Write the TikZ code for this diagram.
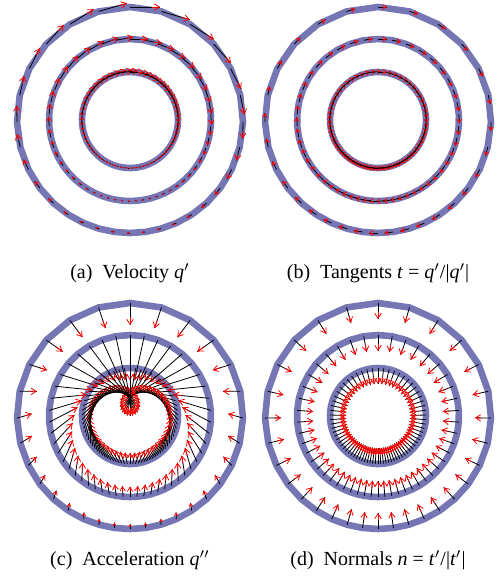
\documentclass[tikz,border=0pt]{standalone}
\usepackage{fontspec}
\setmainfont{Liberation Serif}
\usepackage{tikz}
\usetikzlibrary{arrows.meta}
\definecolor{lila}{RGB}{118,118,180}

\newcommand{\flechita}[4]{%
  \pgfmathsetmacro{\flen}{max(veclen(#3,#4),0.01)}%
  \pgfmathsetmacro{\fred}{min(8,0.45*\flen)/\flen}%
  \pgfmathsetmacro{\fcab}{min(5,0.4*\flen)*0.5}%
  \pgfmathsetmacro{\fanc}{1.3*\fcab}%
  \draw[traza] (#1,#2) -- ++(#3,#4);
  \draw[punta,-{Straight Barb[length=\fcab pt,width=\fanc pt]}] ({#1+(1-\fred)*(#3)},{#2+(1-\fred)*(#4)}) -- ++({\fred*(#3)},{\fred*(#4)});
}

\begin{document}
\begin{tikzpicture}[x=0.5pt,y=-0.5pt,
    anillo/.style={draw=lila,line width=3.3pt,line join=round},
    traza/.style={black,line width=0.4pt},
    punta/.style={red,line width=0.4pt}]
  \useasboundingbox (0,0) rectangle (497,581);
  \foreach \cx/\cy/\modo in {130/120/0,378/120/1,130/416/2,378/416/3} {
    % anillos
    \foreach \radio/\cant in {113/30,81/48,48/72} {
      \pgfmathtruncatemacro{\pasos}{\cant+1}
      \draw[anillo] plot[domain=0:1,samples=\pasos,variable=\t]
        ({\cx+\radio*cos(90-360*\t-20.05*sin(360*\t))},{\cy-\radio*sin(90-360*\t-20.05*sin(360*\t))}) -- cycle;
    }
    % vectores
    \foreach \radio/\cant/\vmax/\amax/\ktan in {113/30/30/22/1,81/48/18/45/1.5,48/72/14/48/3.5} {
      \foreach \i in {1,...,\cant} {
        \pgfmathsetmacro{\ese}{\i/\cant}
        \pgfmathsetmacro{\ang}{90-360*\ese-20.05*sin(360*\ese)}
        \pgfmathsetmacro{\rap}{(1+0.35*cos(360*\ese))/1.35}
        \pgfmathsetmacro{\ppx}{\cx+\radio*cos(\ang)}
        \pgfmathsetmacro{\ppy}{\cy-\radio*sin(\ang)}
        \ifcase\modo\relax
          \pgfmathsetmacro{\vvx}{\vmax*\rap^3*sin(\ang)}
          \pgfmathsetmacro{\vvy}{\vmax*\rap^3*cos(\ang)}
        \or
          \pgfmathsetmacro{\vvx}{9*sin(\ang)}
          \pgfmathsetmacro{\vvy}{9*cos(\ang)}
        \or
          \pgfmathsetmacro{\vvx}{\amax*(-(\rap^2)*cos(\ang)-\ktan*0.35*sin(360*\ese)*sin(\ang)/1.8225)}
          \pgfmathsetmacro{\vvy}{\amax*((\rap^2)*sin(\ang)-\ktan*0.35*sin(360*\ese)*cos(\ang)/1.8225)}
        \or
          \pgfmathsetmacro{\vvx}{-16*cos(\ang)}
          \pgfmathsetmacro{\vvy}{16*sin(\ang)}
        \fi
        \flechita{\ppx}{\ppy}{\vvx}{\vvy}
      }
    }
  }
  \node (capa) at (130,273) {(a)\enspace Velocity \textit{q}$'$};
  \node (capb) at (378,273) {(b)\enspace Tangents \textit{t}~=~\textit{q}$'$/|\textit{q}$'$|};
  \node (capc) at (130,560) {(c)\enspace Acceleration \textit{q}$''$};
  \node (capd) at (378,560) {(d)\enspace Normals \textit{n}~=~\textit{t}$'$/|\textit{t}$'$|};
\end{tikzpicture}
\end{document}
